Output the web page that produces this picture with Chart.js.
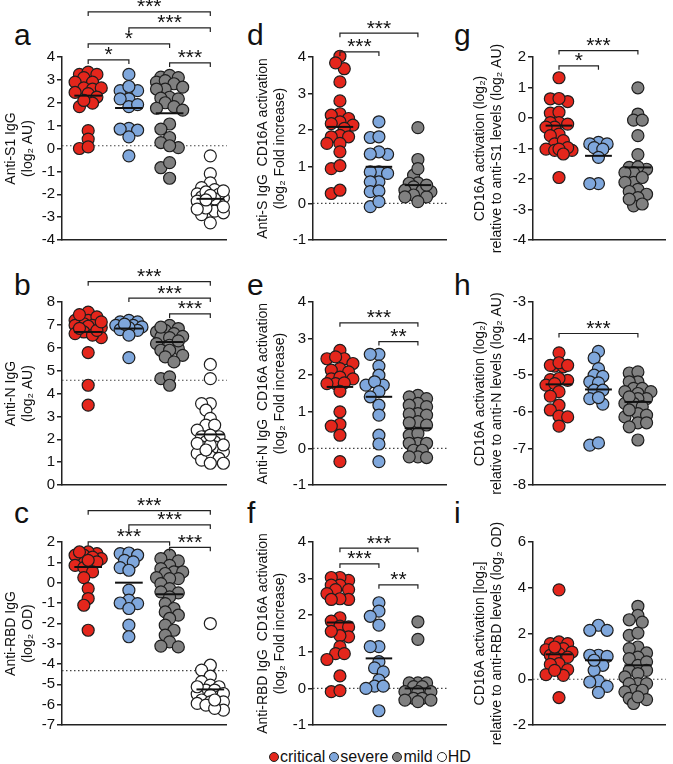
<!DOCTYPE html>
<html>
<head>
<meta charset="utf-8">
<script src="https://cdn.jsdelivr.net/npm/chart.js@4.4.1/dist/chart.umd.min.js"></script>
<style>
  body { margin: 0; background: #fff; }
  #wrap { position: relative; width: 673px; height: 764px; overflow: hidden; font-family: "Liberation Sans", Arial, sans-serif; color: #111; }
  #wrap canvas { position: absolute; }
  .lab { position: absolute; font-size: 30px; line-height: 30px; }
  #legend { position: absolute; left: 269px; top: 748px; font-size: 16px; line-height: 18px; display: flex; align-items: center; white-space: nowrap; }
  .dot { display: inline-block; width: 8px; height: 8px; border: 1px solid #222; border-radius: 50%; margin-right: 1px; }
  .item { display: inline-flex; align-items: center; margin-right: 4px; }
</style>
</head>
<body>
<div id="wrap">
  <div class="lab" style="left:14px;top:20px">a</div>
  <div class="lab" style="left:14px;top:270px">b</div>
  <div class="lab" style="left:14px;top:498px">c</div>
  <div class="lab" style="left:247px;top:20px">d</div>
  <div class="lab" style="left:247px;top:270px">e</div>
  <div class="lab" style="left:247px;top:498px">f</div>
  <div class="lab" style="left:454px;top:20px">g</div>
  <div class="lab" style="left:454px;top:270px">h</div>
  <div class="lab" style="left:454px;top:498px">i</div>
  <div id="legend">
    <span class="item"><span class="dot" style="background:#e4261c"></span>critical</span>
    <span class="item"><span class="dot" style="background:#7fa7dc"></span>severe</span>
    <span class="item"><span class="dot" style="background:#808080"></span>mild</span>
    <span class="item"><span class="dot" style="background:#fff"></span>HD</span>
  </div>
</div>
<script>
// groups
var groups = ['critical', 'severe', 'mild', 'HD'];
var groupColors = ['#e4261c', '#7fa7dc', '#808080', '#ffffff'];

// a: anti-S1 IgG
var aCrit = [3.24, 3.34, 3.24, 3.1, 2.9, 2.9, 2.65, 2.6, 2.65, 2.45, 2.4, 2.25, 1.83, 1.98, 2.1, 0.78, 0.41, 0.0, 0.07];
var aSev = [3.24, 2.53, 2.53, 2.71, 2.17, 2.17, 1.83, 1.92, 0.88, 0.85, 0.8, 0.51, -0.32];
var aMild = [3.12, 3.2, 3.1, 2.9, 2.97, 2.83, 2.6, 2.6, 2.68, 2.24, 2.2, 2.17, 2.0, 1.76, 1.83, 1.68, 1.07, 0.85, 0.48, 0.26, 0.04, 0.12, -0.84, -0.62, -1.3];
var aHD = [-0.32, -1.1, -1.5, -1.8, -1.71, -1.98, -2.12, -2.15, -2.37, -2.45, -2.37, -2.45, -2.74, -2.81, -2.89, -3.25, -1.9, -2.0, -2.2, -2.3, -2.6, -2.05, -1.85, -2.25, -2.55, -2.65];
var aMedians = [2.31, 1.77, 1.54, -2.2];

// b: anti-N IgG
var bCrit = [7.56, 7.2, 7.35, 7.2, 7.05, 6.98, 6.94, 6.88, 6.98, 6.69, 6.62, 6.44, 6.55, 6.76, 7.13, 7.45, 6.85, 5.79, 4.36, 3.49];
var bSev = [7.13, 7.2, 7.13, 6.98, 6.91, 6.98, 6.79, 6.76, 6.88, 6.55, 7.03, 5.57];
var bMild = [6.98, 6.84, 6.76, 6.69, 6.62, 6.47, 6.44, 6.5, 6.18, 6.11, 5.96, 5.89, 5.89, 5.67, 5.6, 5.38, 4.65, 4.73, 4.36, 6.3, 6.9];
var bHD = [5.27, 4.65, 3.56, 3.56, 3.27, 2.91, 2.62, 2.62, 2.4, 2.11, 2.11, 1.89, 1.89, 1.67, 1.67, 1.45, 1.38, 1.24, 1.09, 1.16, 0.95, 0.95, 1.75, 1.75, 2.18, 1.82, 1.53];
var bMedians = [6.69, 6.84, 6.25, 2.21];

// c: anti-RBD IgG
var cCrit = [1.43, 1.51, 1.35, 1.18, 1.18, 1.35, 1.26, 1.02, 0.85, 0.74, 0.53, 0.25, -0.29, -0.78, -1.11, -2.34, 1.51, 1.1];
var cSev = [1.43, 1.46, 1.35, 1.1, 1.02, 0.74, 0.61, -0.37, -0.86, -1.0, -1.03, -1.27, -2.09, -2.66];
var cMild = [1.35, 1.18, 1.07, 0.85, 0.69, 0.53, 0.53, 0.45, 0.2, 0.25, 0.2, -0.05, -0.29, -0.45, -0.5, -0.7, -1.03, -1.27, -1.44, -1.6, -1.76, -2.09, -2.34, -2.58, -2.91, -3.16, -3.12];
var cHD = [-2.01, -4.06, -4.3, -4.6, -4.87, -5.04, -5.12, -5.28, -5.28, -5.48, -5.61, -5.45, -5.53, -5.77, -5.86, -5.86, -5.94, -6.02, -6.27, -6.18, -5.77, -5.12];
var cMedians = [0.77, 0.0, -0.57, -5.25];

// d: anti-S IgG CD16A activation
var dCrit = [4.02, 3.68, 3.84, 3.32, 2.8, 2.45, 2.32, 2.41, 2.23, 2.18, 2.14, 2.05, 1.86, 1.82, 1.82, 1.64, 1.64, 1.41, 0.95, 1.03, 0.27, 0.36];
var dSev = [2.23, 1.8, 1.82, 1.34, 1.41, 1.35, 0.86, 0.86, 0.82, 0.59, 0.59, 0.32, 0.34, -0.09, 0.05];
var dMild = [2.07, 1.2, 0.77, 0.95, 0.56, 0.55, 0.45, 0.36, 0.36, 0.32, 0.23, 0.18, 0.18, 0.05, 0.5];
var dMedians = [2.09, 1.0, 0.5];

// e: anti-N IgG CD16A activation
var eCrit = [2.68, 2.45, 2.45, 2.5, 2.32, 2.18, 2.14, 2.09, 1.9, 1.9, 1.95, 1.77, 1.77, 1.79, 1.56, 1.0, 0.66, 0.61, 0.36, -0.36];
var eSev = [2.57, 2.57, 2.25, 2.0, 1.73, 1.73, 1.82, 1.55, 1.41, 1.18, 0.91, 0.36, 0.12, -0.36];
var eMild = [1.45, 1.41, 1.36, 1.23, 1.18, 1.14, 0.95, 0.91, 0.94, 0.73, 0.7, 0.64, 0.36, 0.41, 0.14, 0.14, 0.14, -0.05, -0.05, -0.23, -0.25, -0.23];
var eMedians = [1.68, 1.41, 0.55];

// f: anti-RBD IgG CD16A activation
var fCrit = [2.95, 3.03, 3.03, 2.82, 2.82, 2.7, 2.7, 2.59, 2.43, 2.45, 2.43, 1.93, 1.84, 1.7, 1.68, 1.41, 1.44, 1.56, 1.14, 0.95, 0.95, 0.79, 0.34, -0.09, -0.06];
var fSev = [2.34, 2.11, 1.97, 1.73, 1.14, 1.14, 0.73, 0.56, 0.45, 0.23, 0.06, 0.06, 0.0, -0.61];
var fMild = [1.82, 1.34, 0.15, 0.15, 0.15, 0.05, 0.05, -0.09, -0.09, -0.09, -0.27, -0.27, -0.32, -0.32, -0.36];
var fMedians = [1.8, 0.82, 0.0];

// g: relative to anti-S1
var gCrit = [1.32, 0.54, 0.63, 0.64, 0.16, 0.19, -0.15, -0.15, -0.2, -0.3, -0.3, -0.53, -0.58, -0.85, -0.74, -1.02, -1.06, -1.06, -0.97, -1.02, -1.18, -1.95];
var gSev = [-0.8, -0.85, -0.85, -0.97, -1.02, -1.29, -2.15, -2.15];
var gMild = [0.99, 0.13, -0.07, -0.07, -0.58, -1.2, -1.68, -1.62, -1.6, -1.79, -1.79, -2.11, -2.11, -1.95, -2.34, -2.41, -2.5, -2.61, -2.88, -2.82, -2.66];
var gMedians = [-0.25, -1.24, -1.62];

// h: relative to anti-N
var hCrit = [-4.39, -4.75, -4.73, -4.77, -4.66, -4.73, -5.12, -5.14, -5.09, -5.27, -5.23, -5.45, -5.57, -5.82, -5.95, -6.12, -6.14, -6.39];
var hSev = [-4.35, -4.53, -4.82, -5.0, -5.03, -5.18, -5.21, -5.41, -5.41, -5.79, -5.64, -5.61, -6.91, -6.85];
var hMild = [-4.94, -4.91, -5.18, -5.18, -5.36, -5.36, -5.5, -5.45, -5.45, -5.64, -5.64, -5.77, -5.77, -5.86, -6.05, -6.09, -6.14, -6.3, -6.3, -6.41, -6.77, -5.59, -5.95];
var hMedians = [-5.25, -5.39, -5.73];

// i: relative to anti-RBD
var iCrit = [3.91, 1.56, 1.63, 1.56, 1.34, 1.29, 1.12, 1.19, 1.05, 0.97, 0.97, 0.68, 0.65, 0.42, 0.17, 0.2, 0.39, -0.8, 1.41];
var iSev = [2.36, 2.14, 2.14, 1.05, 1.05, 1.0, 0.61, 0.39, 0.83, -0.07, -0.12, -0.31, -0.58];
var iMild = [3.19, 2.79, 2.5, 2.6, 1.92, 2.02, 1.41, 1.34, 1.15, 0.97, 0.9, 0.61, 0.76, 0.39, 0.39, 0.25, 0.1, -0.19, -0.19, -0.19, -0.48, -0.48, -0.55, -0.89, -0.84, -1.06, -0.77];
var iMedians = [1.09, 0.83, 0.61];

// significance brackets: [from group, to group, y value, label]
var aSig = [[1, 4, 5.97, '***'], [2, 4, 5.27, '***'], [1, 3, 4.57, '*'], [1, 2, 3.87, '*'], [3, 4, 3.74, '***']];
var bSig = [[1, 4, 8.89, '***'], [2, 4, 8.17, '***'], [3, 4, 7.48, '***']];
var cSig = [[1, 4, 3.54, '***'], [2, 4, 2.84, '***'], [1, 3, 2.01, '***'], [3, 4, 1.74, '***']];
var dSig = [[1, 3, 4.65, '***'], [1, 2, 4.14, '***']];
var eSig = [[1, 3, 3.43, '***'], [2, 3, 2.92, '**']];
var fSig = [[1, 3, 3.83, '***'], [1, 2, 3.4, '***'], [2, 3, 2.83, '**']];
var gSig = [[1, 3, 2.21, '***'], [1, 2, 1.71, '*']];
var hSig = [[1, 3, -3.86, '***']];

Chart.defaults.font.family = '"Liberation Sans", Arial, sans-serif';
Chart.defaults.color = '#111';

// canvas columns / rows (px)
var cols = [
  {left: 0, width: 234, yW: 62, xmin: 0.357, xmax: 4.405, pxX: 42},
  {left: 252, width: 202, yW: 61, xmin: 0.309, xmax: 3.741, pxX: 40.5},
  {left: 469, width: 204, yW: 64, xmin: 0.341, xmax: 3.707, pxX: 41}
];
var rows = [
  {top: 0, height: 290, padTop: 57, plotH: 183},
  {top: 250, height: 280, padTop: 52, plotH: 183},
  {top: 490, height: 274, padTop: 52, plotH: 183}
];

// simple beeswarm: x offsets (category units), dots may overlap a little
function swarm(vals, pxY, pxX) {
  var order = vals.map(function(v, i) { return i; }).sort(function(p, q) { return vals[q] - vals[p]; });
  var placed = [];
  var offs = [];
  order.forEach(function(i) {
    var y = vals[i] * pxY;
    var best = 0, bestD = -1;
    for (var k = 0; k <= 6; k++) {
      var dx = (k % 2 ? -1 : 1) * Math.ceil(k / 2) * 4.5;
      var d = Infinity;
      placed.forEach(function(p) { d = Math.min(d, Math.hypot(p[0] - dx, p[1] - y)); });
      if (d >= 7.5) { best = dx; break; }
      if (d > bestD) { bestD = d; best = dx; }
    }
    placed.push([best, y]);
    offs[i] = best / pxX;
  });
  return offs;
}

var extras = {
  id: 'extras',
  beforeDatasetsDraw: function(chart, args, opts) {
    if (opts.dotted === null) return;
    var ctx = chart.ctx, a = chart.chartArea;
    var y = chart.scales.y.getPixelForValue(opts.dotted);
    ctx.save();
    ctx.strokeStyle = '#444';
    ctx.lineWidth = 1.2;
    ctx.setLineDash([1.5, 2.5]);
    ctx.beginPath();
    ctx.moveTo(a.left, y);
    ctx.lineTo(a.right, y);
    ctx.stroke();
    ctx.restore();
  },
  afterDatasetsDraw: function(chart, args, opts) {
    var ctx = chart.ctx, xs = chart.scales.x, ys = chart.scales.y;
    ctx.save();
    ctx.strokeStyle = '#111';
    ctx.lineWidth = 2;
    opts.medians.forEach(function(m, j) {
      var y = ys.getPixelForValue(m);
      ctx.beginPath();
      ctx.moveTo(xs.getPixelForValue(j + 1 - 0.34), y);
      ctx.lineTo(xs.getPixelForValue(j + 1 + 0.34), y);
      ctx.stroke();
    });
    ctx.restore();
  },
  afterDraw: function(chart, args, opts) {
    var ctx = chart.ctx, xs = chart.scales.x, ys = chart.scales.y;
    ctx.save();
    ctx.strokeStyle = '#222';
    ctx.fillStyle = '#111';
    ctx.lineWidth = 1.2;
    ctx.font = '21px "Liberation Sans", Arial, sans-serif';
    ctx.textAlign = 'center';
    ctx.textBaseline = 'alphabetic';
    opts.brackets.forEach(function(b) {
      var x1 = xs.getPixelForValue(b[0]), x2 = xs.getPixelForValue(b[1]), y = ys.getPixelForValue(b[2]);
      ctx.beginPath();
      ctx.moveTo(x1, y + 4);
      ctx.lineTo(x1, y);
      ctx.lineTo(x2, y);
      ctx.lineTo(x2, y + 4);
      ctx.stroke();
      ctx.fillText(b[3], (x1 + x2) / 2, y + 1.5);
    });
    ctx.restore();
  }
};

function panel(row, col, series, medians, yMin, yMax, yStep, title, dotted, brackets) {
  var R = rows[row], C = cols[col];
  var cv = document.createElement('canvas');
  cv.width = C.width;
  cv.height = R.height;
  cv.style.left = C.left + 'px';
  cv.style.top = R.top + 'px';
  document.getElementById('wrap').appendChild(cv);

  var pxY = R.plotH / (yMax - yMin);
  var datasets = series.map(function(vals, j) {
    var offs = swarm(vals, pxY, C.pxX);
    return {
      label: groups[j],
      data: vals.map(function(v, i) { return {x: j + 1 + offs[i], y: v}; }),
      backgroundColor: groupColors[j],
      borderColor: '#1e1e1e',
      borderWidth: 1.2,
      pointRadius: 6,
      clip: false
    };
  });
  var xH = R.height - R.padTop - R.plotH;

  new Chart(cv, {
    type: 'scatter',
    data: {datasets: datasets},
    options: {
      responsive: false,
      animation: false,
      devicePixelRatio: 1,
      events: [],
      layout: {padding: {top: R.padTop, right: 2, bottom: 0, left: 0}},
      plugins: {
        legend: {display: false},
        tooltip: {enabled: false},
        extras: {medians: medians, dotted: dotted, brackets: brackets}
      },
      scales: {
        x: {
          type: 'linear', min: C.xmin, max: C.xmax,
          ticks: {display: false},
          grid: {display: false},
          border: {color: '#222', width: 1.5},
          afterFit: function(s) { s.height = xH; }
        },
        y: {
          min: yMin, max: yMax,
          ticks: {stepSize: yStep, autoSkip: false, color: '#111', font: {size: 15}, padding: 2},
          grid: {drawOnChartArea: false, drawTicks: true, tickLength: 5, color: '#222', lineWidth: 1.5},
          border: {color: '#222', width: 1.5},
          title: {display: true, text: title, color: '#111', font: {size: 14, lineHeight: 1.25}, padding: {top: 2, bottom: 0}},
          afterFit: function(s) { s.width = C.yW; }
        }
      }
    },
    plugins: [extras]
  });
}

panel(0, 0, [aCrit, aSev, aMild, aHD], aMedians, -4, 4, 1, ['Anti-S1 IgG', '(log\u2082 AU)'], 0.12, aSig);
panel(1, 0, [bCrit, bSev, bMild, bHD], bMedians, 0, 8, 1, ['Anti-N IgG', '(log\u2082 AU)'], 4.58, bSig);
panel(2, 0, [cCrit, cSev, cMild, cHD], cMedians, -7, 2, 1, ['Anti-RBD IgG', '(log\u2082 OD)'], -4.33, cSig);
panel(0, 1, [dCrit, dSev, dMild], dMedians, -1, 4, 1, ['Anti-S IgG  CD16A activation', '(log\u2082 Fold increase)'], 0, dSig);
panel(1, 1, [eCrit, eSev, eMild], eMedians, -1, 4, 1, ['Anti-N IgG  CD16A activation', '(log\u2082 Fold increase)'], 0, eSig);
panel(2, 1, [fCrit, fSev, fMild], fMedians, -1, 4, 1, ['Anti-RBD IgG  CD16A activation', '(log\u2082 Fold increase)'], 0, fSig);
panel(0, 2, [gCrit, gSev, gMild], gMedians, -4, 2, 1, ['CD16A activation (log\u2082)', 'relative to anti-S1 levels (log\u2082 AU)'], null, gSig);
panel(1, 2, [hCrit, hSev, hMild], hMedians, -8, -3, 1, ['CD16A activation (log\u2082)', 'relative to anti-N levels (log\u2082 AU)'], null, hSig);
panel(2, 2, [iCrit, iSev, iMild], iMedians, -2, 6, 2, ['CD16A activation [log\u2082]', 'relative to anti-RBD levels (log\u2082 OD)'], 0, []);
</script>
</body>
</html>
